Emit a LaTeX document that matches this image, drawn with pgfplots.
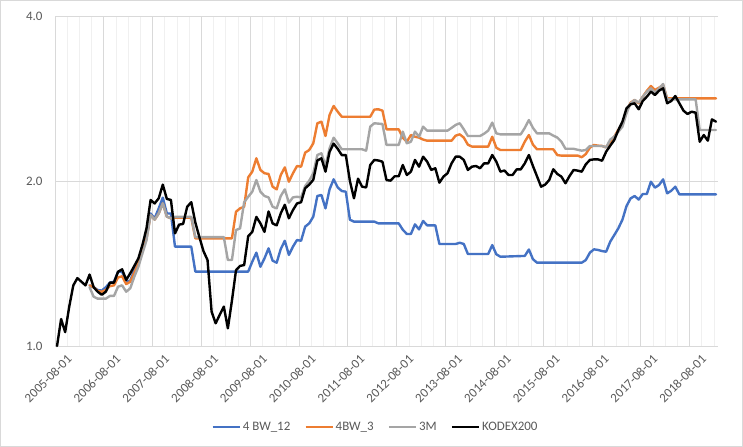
\documentclass[border=0pt]{standalone}
\usepackage{pgfplots}
\usepackage{pgfplotstable}
\pgfplotsset{compat=1.18}
\usepackage{fontspec}
\setmainfont{Carlito}
\definecolor{cblue}{HTML}{4472C4}
\definecolor{corange}{HTML}{ED7D31}
\definecolor{cgray}{HTML}{A5A5A5}
\definecolor{ctext}{HTML}{595959}
\definecolor{cgridmaj}{HTML}{D9D9D9}
\definecolor{cgridmin}{HTML}{F0F0F0}
\newcommand\chartfont{\fontsize{13}{15}\selectfont}

\pgfplotstableread{
m v
0 1.00
1 1.12
2 1.06
3 1.18
4 1.29
5 1.33
6 1.31
7 1.29
8 1.35
9 1.28
10 1.256
11 1.24
12 1.256
13 1.305
14 1.305
15 1.366
16 1.38
17 1.32
18 1.357
19 1.40
20 1.445
21 1.53
22 1.64
23 1.847
24 1.82
25 1.86
26 1.97
27 1.855
28 1.847
29 1.605
30 1.665
31 1.67
32 1.795
33 1.83
34 1.68
35 1.58
36 1.49
37 1.435
38 1.155
39 1.10
40 1.14
41 1.18
42 1.077
43 1.21
44 1.375
45 1.40
46 1.405
47 1.586
48 1.615
49 1.72
50 1.674
51 1.615
52 1.76
53 1.674
54 1.66
55 1.746
56 1.81
57 1.71
58 1.77
59 1.82
60 1.83
61 1.94
62 1.97
63 2.01
64 2.18
65 2.20
66 2.08
67 2.26
68 2.34
69 2.29
70 2.23
71 2.23
72 2.00
73 1.86
74 2.02
75 1.953
76 1.947
77 2.139
78 2.185
79 2.18
80 2.169
81 2.008
82 2.003
83 2.04
84 2.04
85 2.139
86 2.051
87 2.08
88 2.185
89 2.124
90 2.215
91 2.169
92 2.095
93 2.11
94 1.986
95 2.037
96 2.066
97 2.154
98 2.215
99 2.215
100 2.185
101 2.095
102 2.124
103 2.13
104 2.11
105 2.154
106 2.154
107 2.231
108 2.169
109 2.08
110 2.09
111 2.051
112 2.051
113 2.10
114 2.10
115 2.154
116 2.231
117 2.13
118 2.04
119 1.953
120 1.97
121 2.008
122 2.101
123 2.06
124 2.037
125 1.981
126 2.042
127 2.095
128 2.089
129 2.08
130 2.145
131 2.185
132 2.19
133 2.19
134 2.178
135 2.262
136 2.32
137 2.376
138 2.478
139 2.566
140 2.714
141 2.76
142 2.772
143 2.703
144 2.799
145 2.85
146 2.911
147 2.87
148 2.923
149 2.952
150 2.772
151 2.799
152 2.858
153 2.772
154 2.688
155 2.65
156 2.676
157 2.665
158 2.359
159 2.426
160 2.369
161 2.591
162 2.566
}\tblack

\pgfplotstableread{
m v
8 1.29
9 1.28
10 1.265
11 1.262
12 1.28
13 1.305
14 1.31
15 1.366
16 1.366
17 1.31
18 1.315
19 1.376
20 1.425
21 1.52
22 1.59
23 1.745
24 1.71
25 1.783
26 1.865
27 1.745
28 1.745
29 1.518
33 1.518
34 1.367
47 1.367
48 1.425
49 1.48
50 1.395
51 1.445
52 1.507
53 1.431
54 1.419
55 1.503
56 1.556
57 1.466
58 1.518
59 1.561
60 1.556
61 1.651
62 1.674
63 1.722
64 1.878
65 1.886
66 1.783
67 1.931
68 2.014
69 1.947
70 1.918
71 1.912
72 1.70
73 1.686
78 1.686
79 1.674
84 1.674
85 1.63
86 1.601
87 1.601
88 1.667
89 1.632
90 1.691
91 1.66
93 1.66
94 1.535
98 1.535
99 1.543
100 1.535
101 1.472
106 1.472
107 1.528
108 1.47
109 1.455
115 1.46
116 1.50
117 1.44
118 1.419
129 1.419
130 1.435
131 1.48
132 1.501
133 1.497
134 1.49
135 1.486
136 1.55
137 1.594
138 1.64
139 1.70
140 1.80
141 1.859
142 1.878
143 1.85
144 1.894
145 1.894
146 1.994
147 1.945
148 1.967
149 2.014
150 1.899
151 1.92
152 1.953
153 1.891
162 1.891
}\tblue

\pgfplotstableread{
m v
8 1.29
9 1.28
10 1.26
11 1.256
12 1.265
13 1.286
14 1.29
15 1.334
16 1.34
17 1.297
18 1.31
19 1.36
20 1.415
21 1.50
22 1.57
23 1.734
24 1.70
25 1.745
26 1.82
27 1.722
28 1.71
29 1.715
33 1.715
34 1.572
43 1.572
44 1.758
45 1.783
46 1.795
47 2.031
48 2.08
49 2.20
50 2.095
51 2.066
52 2.06
53 1.953
54 1.931
55 2.051
56 2.118
57 1.994
58 2.066
59 2.13
60 2.124
61 2.253
62 2.278
63 2.343
64 2.549
65 2.566
66 2.416
67 2.639
68 2.741
69 2.676
70 2.62
77 2.62
78 2.70
79 2.703
80 2.688
81 2.485
84 2.485
85 2.40
86 2.359
87 2.426
88 2.409
89 2.40
90 2.38
91 2.369
97 2.369
98 2.42
99 2.433
100 2.40
101 2.33
102 2.311
106 2.311
107 2.409
108 2.30
109 2.278
114 2.278
115 2.36
116 2.426
117 2.33
118 2.285
122 2.285
123 2.23
124 2.225
128 2.225
129 2.21
130 2.24
131 2.30
132 2.327
133 2.32
134 2.317
135 2.304
136 2.36
137 2.41
138 2.48
139 2.531
140 2.676
141 2.779
142 2.811
143 2.772
144 2.85
145 2.92
146 2.981
147 2.932
148 2.96
149 2.993
150 2.83
162 2.83
}\torange

\pgfplotstableread{
m v
8 1.28
9 1.23
10 1.22
12 1.22
13 1.234
14 1.234
15 1.283
16 1.29
17 1.256
18 1.274
19 1.338
20 1.395
21 1.476
22 1.56
23 1.734
24 1.70
25 1.745
26 1.82
27 1.722
28 1.71
29 1.72
33 1.72
34 1.58
41 1.58
42 1.435
43 1.435
44 1.628
45 1.639
46 1.829
47 1.872
48 1.912
49 2.008
50 1.912
51 1.878
52 1.867
53 1.795
54 1.783
55 1.878
56 1.931
57 1.826
58 1.867
59 1.872
60 1.867
61 1.958
62 2.003
63 2.066
64 2.231
65 2.247
66 2.130
67 2.294
68 2.399
69 2.343
70 2.285
75 2.285
76 2.272
77 2.513
78 2.549
79 2.545
80 2.541
81 2.327
84 2.327
85 2.461
86 2.343
87 2.359
88 2.461
89 2.409
90 2.513
91 2.471
96 2.471
97 2.50
98 2.531
99 2.549
100 2.485
101 2.416
104 2.416
105 2.44
106 2.471
107 2.556
108 2.443
109 2.433
114 2.433
115 2.50
116 2.584
117 2.50
118 2.443
121 2.443
122 2.42
123 2.40
124 2.359
125 2.29
127 2.29
128 2.28
129 2.272
130 2.278
131 2.317
134 2.317
135 2.304
136 2.38
137 2.41
138 2.46
139 2.513
140 2.658
141 2.772
142 2.811
143 2.779
144 2.85
145 2.91
146 2.952
147 2.899
148 2.95
149 3.006
150 2.818
157 2.818
158 2.478
162 2.478
}\tgray

\begin{document}
\begin{tikzpicture}[x=1bp,y=1bp]
\useasboundingbox (0,0) rectangle (743,447);
\draw[cgridmaj, line width=0.75bp] (0.5,0.5) rectangle (742.5,446.5);
\begin{axis}[
  at={(55bp,101bp)}, anchor=south west,
  scale only axis, width=663bp, height=330bp,
  ymode=log, ymin=1, ymax=4,
  xmin=-0.5, xmax=162.5,
  clip=false,
  axis line style={draw=none},
  major tick length=0pt, minor tick length=0pt,
  tick style={draw=none},
  ytick={1,2,4}, yticklabels={1.0,2.0,4.0},
  ymajorgrids, 
  major grid style={cgridmaj, line width=0.75bp},
  yticklabel style={font=\chartfont, text=ctext, xshift=-9bp},
  xtick={0,12,...,156},
  xticklabels={2005-08-01,2006-08-01,2007-08-01,2008-08-01,2009-08-01,2010-08-01,2011-08-01,2012-08-01,2013-08-01,2014-08-01,2015-08-01,2016-08-01,2017-08-01,2018-08-01},
  xticklabel style={font=\chartfont, text=ctext, rotate=45, anchor=north east, inner sep=0pt, yshift=-12bp, xshift=1bp},
  minor xtick={2.5,5.5,...,161.5},
  xminorgrids,
  minor grid style={cgridmin, line width=0.75bp},
  extra x ticks={-0.5,11.5,...,155.5},
  extra x tick labels={},
  extra x tick style={xmajorgrids=true, ymajorgrids=false, major grid style={cgridmaj, line width=0.75bp}},
  legend style={at={(0.4834,-0.245)}, anchor=center, draw=none, fill=none,
    legend columns=4, font=\chartfont, text=ctext, inner sep=0pt,
    /tikz/every odd column/.append style={column sep=0bp},
    /tikz/every even column/.append style={column sep=12bp}},
  legend cell align=left,
  legend image code/.code={\draw[#1, line cap=butt] (0bp,0bp) -- (27bp,0bp);},
  every axis plot/.append style={line width=2.4bp, line join=round, line cap=round},
]
\addplot[cblue] table[x=m,y=v] {\tblue};
\addlegendentry{4 BW\_12}
\addplot[corange] table[x=m,y=v] {\torange};
\addlegendentry{4BW\_3}
\addplot[cgray] table[x=m,y=v] {\tgray};
\addlegendentry{3M}
\addplot[black] table[x=m,y=v] {\tblack};
\addlegendentry{KODEX200}
\end{axis}
\end{tikzpicture}
\end{document}
